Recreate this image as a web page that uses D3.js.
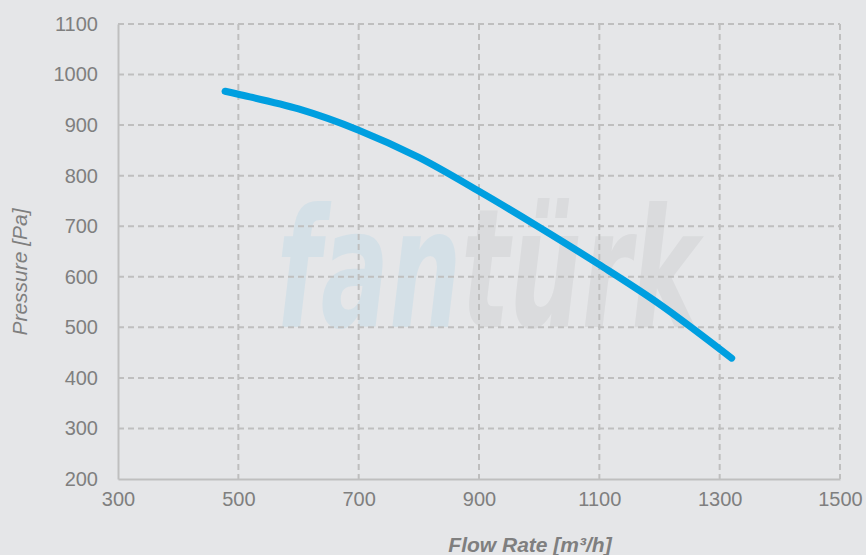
<!DOCTYPE html>
<html>
<head>
<meta charset="utf-8">
<script src="https://cdn.jsdelivr.net/npm/d3@7"></script>
<style>
  html, body { margin: 0; padding: 0; background: #e5e6e8; }
  svg { display: block; font-family: "Liberation Sans", Arial, sans-serif; }
</style>
</head>
<body>
<div id="chart"></div>
<script>
// curve
const flow = [478, 500, 600, 700, 800, 900, 1000, 1100, 1200, 1320];
const pressure = [967, 961, 932, 890, 836, 769, 698, 624, 546, 439];
const xTicks = [300, 500, 700, 900, 1100, 1300, 1500];
const yTicks = [200, 300, 400, 500, 600, 700, 800, 900, 1000, 1100];

const width = 866, height = 555;
const margin = {top: 24, right: 26, bottom: 76, left: 118};
const w = width - margin.left - margin.right;
const h = height - margin.top - margin.bottom;

const svg = d3.select("#chart").append("svg")
  .attr("width", width)
  .attr("height", height);

svg.append("rect").attr("width", width).attr("height", height).attr("fill", "#e5e6e8");

const g = svg.append("g").attr("transform", `translate(${margin.left},${margin.top})`);

const x = d3.scaleLinear().domain([300, 1500]).range([0, w]);
const y = d3.scaleLinear().domain([200, 1100]).range([h, 0]);

// watermark
const wm = g.append("text")
  .attr("x", x(564))
  .attr("y", y(500))
  .attr("text-anchor", "start")
  .attr("font-family", "DejaVu Sans")
  .attr("font-weight", "bold")
  .attr("font-style", "italic")
  .attr("font-size", 166)
  .attr("textLength", 422)
  .attr("lengthAdjust", "spacingAndGlyphs");
wm.append("tspan").attr("fill", "#d4e0e7").text("fan");
wm.append("tspan").attr("fill", "#dadbdd").text("türk");

// grid
g.append("g").selectAll("line").data(yTicks.filter(d => d > 200)).join("line")
  .attr("x1", 0).attr("x2", w)
  .attr("y1", d => y(d)).attr("y2", d => y(d))
  .attr("stroke", "#bfbfbf").attr("stroke-width", 2)
  .attr("stroke-dasharray", "6,4");

g.append("g").selectAll("line").data(xTicks.filter(d => d > 300)).join("line")
  .attr("x1", d => x(d)).attr("x2", d => x(d))
  .attr("y1", 0).attr("y2", h)
  .attr("stroke", "#bfbfbf").attr("stroke-width", 2)
  .attr("stroke-dasharray", "6,4");

// axes
const xAxis = g.append("g").attr("transform", `translate(0,${h})`)
  .call(d3.axisBottom(x).tickValues(xTicks).tickFormat(d3.format("d")).tickSize(0).tickPadding(13));
const yAxis = g.append("g")
  .call(d3.axisLeft(y).tickValues(yTicks).tickFormat(d3.format("d")).tickSize(0).tickPadding(20));

[xAxis, yAxis].forEach(a => {
  a.attr("font-size", 20).attr("font-family", "Liberation Sans, Arial, sans-serif");
  a.select(".domain").attr("stroke", "#bfbfbf").attr("stroke-width", 2);
  a.selectAll("text").attr("fill", "#7f7f7f");
});

// curve
const line = d3.line().x((d, i) => x(flow[i])).y(d => y(d)).curve(d3.curveCatmullRom);
g.append("path")
  .datum(pressure)
  .attr("d", line)
  .attr("fill", "none")
  .attr("stroke", "#009fe0")
  .attr("stroke-width", 7)
  .attr("stroke-linecap", "round")
  .attr("stroke-linejoin", "round");

// axis titles
svg.append("text")
  .attr("transform", `translate(27,272) rotate(-90)`)
  .attr("text-anchor", "middle")
  .attr("font-size", 21)
  .attr("font-style", "italic")
  .attr("fill", "#7f7f7f")
  .text("Pressure [Pa]");

svg.append("text")
  .attr("x", 530)
  .attr("y", 552)
  .attr("text-anchor", "middle")
  .attr("font-size", 21)
  .attr("font-style", "italic")
  .attr("font-weight", "bold")
  .attr("fill", "#7f7f7f")
  .text("Flow Rate [m³/h]");
</script>
</body>
</html>
